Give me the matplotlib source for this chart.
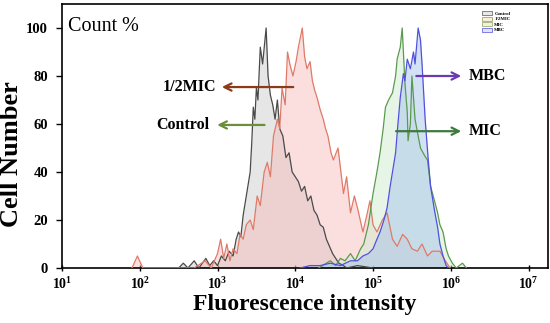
import matplotlib
matplotlib.use("Agg")
import matplotlib.pyplot as plt
import numpy as np
from matplotlib.patches import Patch

plt.rcParams["mathtext.fontset"] = "custom"
plt.rcParams["mathtext.rm"] = "Liberation Serif:bold"
plt.rcParams["mathtext.bf"] = "Liberation Serif:bold"
plt.rcParams["mathtext.it"] = "Liberation Serif:bold"

# ---- data (x given as log10 of fluorescence intensity) ----
control_log = [2.50, 2.56, 2.62, 2.70, 2.76, 2.85, 2.90, 2.95, 3.00, 3.05, 3.10, 3.15, 3.20, 3.24, 3.27, 3.30,
               3.33, 3.36, 3.39, 3.42, 3.44, 3.46, 3.48, 3.50, 3.52, 3.55, 3.58, 3.625, 3.65, 3.68, 3.71,
               3.74, 3.77, 3.80, 3.84, 3.88, 3.92, 3.96, 4.00, 4.04, 4.08, 4.12, 4.16, 4.20, 4.24, 4.28,
               4.32, 4.36, 4.40, 4.44, 4.48, 4.52, 4.56, 4.62, 4.66, 4.80, 5.00]
control_cnt = [0, 2, 0, 3, 0, 4, 1, 3, 1, 5, 3, 7, 5, 12, 15, 13,
               22, 28, 34, 40, 52, 67, 62, 75, 70, 92, 85, 100, 80, 72, 68,
               62, 70, 58, 55, 46, 48, 40, 38, 36, 32, 34, 28, 30, 24, 22,
               18, 17, 12, 9, 6, 4, 2, 1, 0, 1, 0]

half_mic_log = [1.90, 1.97, 2.04, 2.70, 2.84, 2.92, 3.00, 3.04, 3.08, 3.12, 3.16, 3.20, 3.25, 3.29, 3.33,
                3.37, 3.42, 3.46, 3.51, 3.55, 3.60, 3.64, 3.68, 3.72, 3.77, 3.80, 3.83, 3.87, 3.90,
                3.93, 3.97, 4.01, 4.04, 4.09, 4.12, 4.15, 4.19, 4.22, 4.25, 4.28, 4.32, 4.36, 4.39,
                4.42, 4.46, 4.49, 4.55, 4.62, 4.66, 4.71, 4.76, 4.80, 4.87, 4.92, 4.96, 5.00, 5.05,
                5.12, 5.18, 5.25, 5.31, 5.38, 5.44, 5.50, 5.57, 5.63, 5.70, 5.76, 5.86, 5.93, 5.99]
half_mic_cnt = [0, 5, 0, 0, 3, 0, 6, 12, 4, 10, 3, 8, 6, 14, 12,
                18, 20, 16, 30, 26, 40, 44, 38, 55, 62, 58, 75, 68, 90,
                85, 80, 86, 92, 100, 88, 83, 86, 78, 74, 71, 66, 62, 58,
                55, 48, 45, 50, 31, 38, 23, 30, 25, 15, 22, 28, 18, 15,
                20, 23, 12, 9, 14, 12, 8, 7, 10, 5, 7, 7, 3, 0]

mic_log = [4.30, 4.40, 4.45, 4.52, 4.58, 4.64, 4.71, 4.77, 4.84, 4.88, 4.94, 5.00, 5.05, 5.09, 5.13,
           5.16, 5.20, 5.25, 5.29, 5.31, 5.35, 5.375, 5.41, 5.44, 5.45, 5.48, 5.50, 5.54, 5.58,
           5.61, 5.66, 5.70, 5.74, 5.79, 5.83, 5.86, 5.90, 5.94, 5.97, 6.02, 6.07, 6.15, 6.20]
mic_cnt = [0, 2, 3, 1, 4, 3, 6, 3, 8, 10, 18, 31, 40, 48, 58,
           67, 70, 73, 80, 87, 92, 100, 77, 65, 53, 60, 80, 62, 55,
           50, 47, 45, 34, 28, 23, 18, 15, 8, 5, 2, 0, 2, 0]

mbc_log = [4.06, 4.19, 4.32, 4.45, 4.58, 4.71, 4.80, 4.87, 4.94, 5.00, 5.05, 5.09, 5.14, 5.18, 5.22,
           5.26, 5.29, 5.32, 5.35, 5.39, 5.41, 5.44, 5.48, 5.52, 5.54, 5.58, 5.61, 5.63, 5.67,
           5.71, 5.74, 5.79, 5.83, 5.86, 5.90, 5.94, 5.97]
mbc_cnt = [0, 1, 1, 2, 1, 3, 3, 5, 6, 8, 12, 15, 20, 25, 34,
           42, 48, 60, 71, 81, 78, 87, 83, 90, 85, 100, 95, 85, 62,
           45, 34, 24, 17, 10, 5, 1, 0]

series_names = ["Control", "1/2MIC", "MIC", "MBC"]
x_tick_exponents = [1, 2, 3, 4, 5, 6, 7]
y_ticks = [0, 20, 40, 60, 80, 100]

serif = ["Liberation Serif", "DejaVu Serif"]

fig = plt.figure(figsize=(5.5, 3.23), dpi=100)
ax = fig.add_axes([0.1127, 0.1703, 0.8837, 0.8173])

styles = [
    (control_log, control_cnt, "#4a4a4a", "#c8c8c8", 0.45),
    (half_mic_log, half_mic_cnt, "#e07a68", "#f7b8b8", 0.45),
    (mic_log, mic_cnt, "#5a9a4e", "#cfeccf", 0.5),
    (mbc_log, mbc_cnt, "#5050e0", "#a8c4ec", 0.5),
]
for (lx, cnt, lc, fc, a), name in zip(styles, series_names):
    xv = 10.0 ** np.array(lx)
    ax.fill_between(xv, 0, cnt, color=fc, alpha=a, linewidth=0, zorder=2)
    ax.plot(xv, cnt, color=lc, lw=0.9, zorder=3)

ax.set_xscale("log")
ax.set_xlim(10 ** 1, 10 ** 7.25)
ax.set_ylim(0, 110)
ax.set_xticks([10.0 ** e for e in x_tick_exponents])
ax.set_xticklabels([r"$\mathbf{10^{%d}}$" % e for e in x_tick_exponents])
ax.xaxis.set_minor_locator(matplotlib.ticker.NullLocator())
ax.set_yticks(y_ticks)
ax.set_yticklabels([str(v) for v in y_ticks])
for lab in ax.get_yticklabels():
    lab.set_fontfamily(serif)
    lab.set_fontweight("bold")
    lab.set_fontsize(10.5)
for lab in ax.get_xticklabels():
    lab.set_fontsize(10)
ax.tick_params(axis="y", direction="out", length=4, width=1, pad=6)
ax.tick_params(axis="x", direction="inout", length=4, width=1, pad=4)
for sp in ax.spines.values():
    sp.set_linewidth(1.2)

ax.set_xlabel("Fluorescence intensity", fontfamily=serif, fontweight="bold", fontsize=17, labelpad=1)
ax.set_ylabel("Cell Number", fontfamily=serif, fontweight="bold", fontsize=19)
ax.yaxis.set_label_coords(-0.08, 0.43)

ax.text(0.012, 0.95, "Count %", transform=ax.transAxes, ha="left", va="top",
        fontfamily=serif, fontsize=14.5)

def arrow(x0, x1, y, color):
    ax.annotate("", xy=(10 ** x1, y), xytext=(10 ** x0, y),
                arrowprops=dict(arrowstyle="->", color=color, lw=1.6, mutation_scale=13), zorder=5)

fs = 11.5
arrow(4.01, 3.02, 75.4, "#8b3a1a")
ax.text(10 ** 2.98, 75.4, "1/2MIC", ha="right", va="center", fontfamily=serif, fontweight="bold", fontsize=fs)
arrow(3.64, 2.96, 59.6, "#6b8e3a")
ax.text(10 ** 2.89, 59.6, "Control", ha="right", va="center", fontfamily=serif, fontweight="bold", fontsize=fs)
arrow(5.52, 6.17, 80.0, "#6a3ab0")
ax.text(10 ** 6.23, 80.0, "MBC", ha="left", va="center", fontfamily=serif, fontweight="bold", fontsize=fs)
arrow(5.26, 6.17, 57.0, "#3d7a3d")
ax.text(10 ** 6.23, 57.0, "MIC", ha="left", va="center", fontfamily=serif, fontweight="bold", fontsize=fs)

handles = [Patch(facecolor="#e8e8e8", edgecolor="#555555", lw=0.5),
           Patch(facecolor="#f6f0d8", edgecolor="#a09060", lw=0.5),
           Patch(facecolor="#eef4d8", edgecolor="#90a060", lw=0.5),
           Patch(facecolor="#e0e4f8", edgecolor="#5050e0", lw=0.5)]
leg = ax.legend(handles, series_names, loc="upper right", bbox_to_anchor=(0.93, 0.985),
                frameon=False, handlelength=2.2, handleheight=0.9,
                labelspacing=0.15, borderpad=0.2, handletextpad=0.4,
                prop={"family": serif, "size": 3.5, "weight": "bold"})

fig.savefig("out.png", dpi=100)
